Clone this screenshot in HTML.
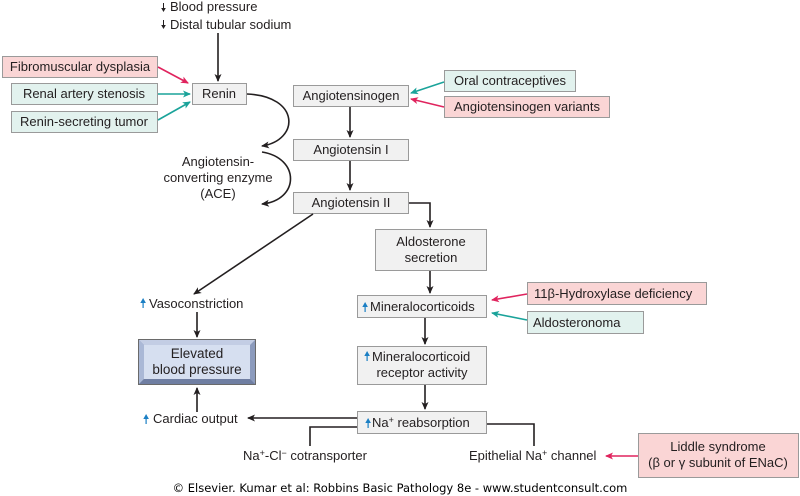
<!DOCTYPE html>
<html><head><meta charset="utf-8"><style>
html,body{margin:0;padding:0;background:#fff;}
svg{display:block;font-family:"Liberation Sans",Arial,sans-serif;}
text{font-size:13px;fill:#231f20;}
</style></head><body>
<svg width="800" height="496" viewBox="0 0 800 496" xmlns="http://www.w3.org/2000/svg">
<defs>
<marker id="ak" markerWidth="8" markerHeight="8" refX="7" refY="4" orient="auto" markerUnits="userSpaceOnUse"><path d="M0,0.5 L8,4 L0,7.5 L2,4z" fill="#231f20"/></marker>
<marker id="ap" markerWidth="8" markerHeight="8" refX="7" refY="4" orient="auto" markerUnits="userSpaceOnUse"><path d="M0,0.5 L8,4 L0,7.5 L2,4z" fill="#e0245e"/></marker>
<marker id="at" markerWidth="8" markerHeight="8" refX="7" refY="4" orient="auto" markerUnits="userSpaceOnUse"><path d="M0,0.5 L8,4 L0,7.5 L2,4z" fill="#1aa39a"/></marker>
</defs>
<g stroke="#9a9a9a" stroke-width="1">
<rect x="2.5" y="56.5" width="155" height="21" fill="#fad5d5"/>
<rect x="11.5" y="83.5" width="146" height="21" fill="#e2f2ee"/>
<rect x="11.5" y="111.5" width="146" height="21" fill="#e2f2ee"/>
<rect x="192.5" y="83.5" width="54" height="21" fill="#f1f1f1"/>
<rect x="293.5" y="85.5" width="115" height="21" fill="#f1f1f1"/>
<rect x="444.5" y="70.5" width="131" height="21" fill="#e2f2ee"/>
<rect x="444.5" y="96.5" width="165" height="21" fill="#fad5d5"/>
<rect x="293.5" y="139.5" width="115" height="21" fill="#f1f1f1"/>
<rect x="293.5" y="192.5" width="115" height="21" fill="#f1f1f1"/>
<rect x="375.5" y="229.5" width="111" height="41" fill="#f1f1f1"/>
<rect x="357.5" y="295.5" width="129" height="22" fill="#f1f1f1"/>
<rect x="527.5" y="282.5" width="179" height="22" fill="#fad5d5"/>
<rect x="527.5" y="311.5" width="116" height="22" fill="#e2f2ee"/>
<rect x="357.5" y="346.5" width="129" height="38" fill="#f1f1f1"/>
<rect x="357.5" y="411.5" width="129" height="22" fill="#f1f1f1"/>
<rect x="638.5" y="433.5" width="160" height="44" fill="#fad5d5"/>
</g>
<rect x="138" y="339" width="118" height="46" fill="#8c9bbd"/>
<polygon points="138,339 256,339 250,345 144,345" fill="#c3cde4"/>
<polygon points="138,339 144,345 144,379 138,385" fill="#aab8d6"/>
<polygon points="144,379 250,379 256,385 138,385" fill="#6f7ea2"/>
<rect x="144" y="345" width="106" height="34" fill="#d6dff0"/>
<rect x="138.5" y="339.5" width="117" height="45" fill="none" stroke="#6a6a6a"/>

<g stroke="#231f20" stroke-width="1.6" fill="none" marker-end="url(#ak)">
<line x1="218" y1="33" x2="218" y2="81"/>
<path d="M247,94 C300,96 300,140 262,146"/>
<path d="M262,152 C300,158 300,200 262,204"/>
<line x1="350" y1="107" x2="350" y2="137"/>
<line x1="350" y1="161" x2="350" y2="190"/>
<path d="M409,203 L430,203 L430,227"/>
<line x1="313" y1="214" x2="194" y2="294"/>
<line x1="430" y1="271" x2="430" y2="293"/>
<line x1="425" y1="318" x2="425" y2="344"/>
<line x1="425" y1="385" x2="425" y2="409"/>
<line x1="197" y1="312" x2="197" y2="337"/>
<line x1="197" y1="412" x2="197" y2="388"/>
<line x1="357" y1="418" x2="248" y2="418"/>
</g>
<g stroke="#231f20" stroke-width="1.6" fill="none">
<path d="M357,427 L310,427 L310,446"/>
<path d="M487,424 L534,424 L534,446"/>
</g>
<g stroke-width="1.6" fill="none">
<line x1="158" y1="67" x2="188" y2="83" stroke="#e0245e" marker-end="url(#ap)"/>
<line x1="158" y1="94" x2="190" y2="94" stroke="#1aa39a" marker-end="url(#at)"/>
<line x1="158" y1="120" x2="190" y2="102" stroke="#1aa39a" marker-end="url(#at)"/>
<line x1="444" y1="82" x2="411" y2="93" stroke="#1aa39a" marker-end="url(#at)"/>
<line x1="444" y1="107" x2="411" y2="99" stroke="#e0245e" marker-end="url(#ap)"/>
<line x1="527" y1="294" x2="492" y2="300" stroke="#e0245e" marker-end="url(#ap)"/>
<line x1="527" y1="320" x2="492" y2="313" stroke="#1aa39a" marker-end="url(#at)"/>
<line x1="638" y1="456" x2="606" y2="456" stroke="#e0245e" marker-end="url(#ap)"/>
</g>

<g fill="#231f20">
<path d="M163,3 v5 h-1.8 l2.3,4 l2.3,-4 h-1.8 v-5z"/>
<path d="M163,20 v5 h-1.8 l2.3,4 l2.3,-4 h-1.8 v-5z"/>
</g>
<g fill="#1b7fc4">
<path d="M142.5,308 v-5 h-2.2 l2.8,-5 l2.8,5 h-2.2 v5z"/>
<path d="M145.5,424 v-5 h-2.2 l2.8,-5 l2.8,5 h-2.2 v5z"/>
<path d="M364.5,312 v-5 h-2.2 l2.8,-5 l2.8,5 h-2.2 v5z"/>
<path d="M366.5,361 v-5 h-2.2 l2.8,-5 l2.8,5 h-2.2 v5z"/>
<path d="M367.5,428 v-5 h-2.2 l2.8,-5 l2.8,5 h-2.2 v5z"/>
</g>

<text x="170" y="11">Blood pressure</text>
<text x="170" y="29">Distal tubular sodium</text>
<text x="80" y="71" text-anchor="middle">Fibromuscular dysplasia</text>
<text x="84" y="98" text-anchor="middle">Renal artery stenosis</text>
<text x="84" y="126" text-anchor="middle">Renin-secreting tumor</text>
<text x="219" y="98" text-anchor="middle">Renin</text>
<text x="351" y="100" text-anchor="middle">Angiotensinogen</text>
<text x="510" y="85" text-anchor="middle">Oral contraceptives</text>
<text x="527" y="111" text-anchor="middle">Angiotensinogen variants</text>
<text x="351" y="154" text-anchor="middle">Angiotensin I</text>
<text x="351" y="207" text-anchor="middle">Angiotensin II</text>
<text x="218" y="166" text-anchor="middle">Angiotensin-</text>
<text x="218" y="182" text-anchor="middle">converting enzyme</text>
<text x="218" y="198" text-anchor="middle">(ACE)</text>
<text x="431" y="246" text-anchor="middle">Aldosterone</text>
<text x="431" y="262" text-anchor="middle">secretion</text>
<text x="149" y="308">Vasoconstriction</text>
<text x="370" y="311">Mineralocorticoids</text>
<text x="534" y="298">11β-Hydroxylase deficiency</text>
<text x="533" y="327">Aldosteronoma</text>
<text x="372" y="361">Mineralocorticoid</text>
<text x="422" y="377" text-anchor="middle">receptor activity</text>
<text x="197" y="358" text-anchor="middle" style="font-size:13.5px">Elevated</text>
<text x="197" y="374" text-anchor="middle" style="font-size:13.5px">blood pressure</text>
<text x="153" y="423">Cardiac output</text>
<text x="372" y="427">Na<tspan dy="-4" style="font-size:9px">+</tspan><tspan dy="4"> reabsorption</tspan></text>
<text x="243" y="460">Na<tspan dy="-4" style="font-size:9px">+</tspan><tspan dy="4">-Cl</tspan><tspan dy="-4" style="font-size:9px">−</tspan><tspan dy="4"> cotransporter</tspan></text>
<text x="469" y="460">Epithelial Na<tspan dy="-4" style="font-size:9px">+</tspan><tspan dy="4"> channel</tspan></text>
<text x="718" y="451" text-anchor="middle">Liddle syndrome</text>
<text x="718" y="467" text-anchor="middle">(β or γ subunit of ENaC)</text>
<text x="400" y="492" text-anchor="middle" style="font-family:'DejaVu Sans',sans-serif;font-size:11.5px;fill:#000">© Elsevier. Kumar et al: Robbins Basic Pathology 8e - www.studentconsult.com</text>
</svg>
</body></html>
